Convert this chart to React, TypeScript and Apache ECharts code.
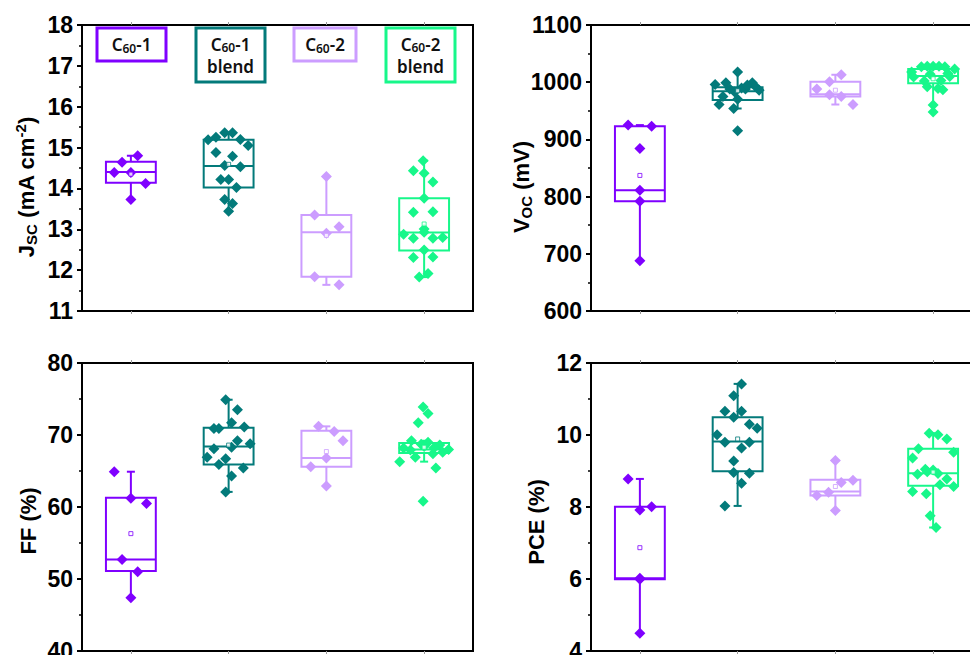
import React, { useEffect, useRef } from 'react';
import * as echarts from 'echarts';

// Sample groups, in plotting order
const categories = ['C60-1', 'C60-1 blend', 'C60-2', 'C60-2 blend'];

// ---- J_SC (mA cm^-2) ----
const jscPoints: number[][] = [
  [14.64, 14.8, 14.39, 14.39, 14.12, 13.73],
  [15.19, 15.25, 15.36, 15.36, 15.2, 15.05, 14.88, 14.79, 14.56, 14.53, 14.22, 14.22, 14.02, 13.73, 13.63, 13.44],
  [14.29, 13.35, 13.06, 12.9, 11.84, 11.64],
  [14.68, 14.43, 14.37, 14.16, 13.76, 13.42, 13.43, 13.01, 12.88, 12.78, 12.93, 12.78, 12.8, 12.49, 12.31, 12.32, 11.83, 11.92],
];
const jscJitter: number[][] = [
  [-0.09, 0.07, -0.17, 0, 0.15, 0],
  [-0.21, -0.13, -0.04, 0.04, 0.12, 0.2, -0.13, 0.04, -0.04, 0.12, -0.08, 0, 0.08, -0.04, 0.04, 0],
  [0, -0.12, 0.13, 0, -0.12, 0.13],
  [-0.01, -0.11, 0, 0.09, 0, -0.11, 0.09, 0, -0.21, -0.11, 0, 0.09, 0.19, 0, -0.11, 0.09, -0.05, 0.04],
];
// [lower whisker, Q1, median, Q3, upper whisker]
const jscBoxes: number[][] = [
  [13.73, 14.14, 14.4, 14.65, 14.8],
  [13.44, 14.02, 14.55, 15.19, 15.36],
  [11.64, 11.84, 12.93, 13.35, 14.29],
  [11.83, 12.48, 12.92, 13.76, 14.68],
];
const jscMeans = [14.35, 14.59, 12.85, 13.13];
const jscAxis = [11, 18, 1]; // min, max, step

// ---- V_OC (mV) ----
const vocPoints: number[][] = [
  [925, 923, 884, 811, 792, 688],
  [1018, 996, 999, 999, 986, 988, 988, 993, 975, 970, 961, 954, 915, 990, 995, 983],
  [988, 1001, 1013, 978, 975, 961],
  [1027, 1028, 1028, 1028, 1027, 1023, 1018, 1015, 1009, 1010, 1002, 1003, 992, 989, 987, 960, 948, 1014],
];
const vocJitter: number[][] = [
  [-0.12, 0.12, 0, 0, 0, 0],
  [0, -0.23, -0.12, 0.15, 0.22, -0.08, 0.08, 0.18, -0.15, 0, -0.19, -0.04, 0, 0.04, 0.1, -0.03],
  [-0.19, -0.06, 0.06, -0.06, 0.06, 0.18],
  [-0.12, -0.06, 0, 0.06, 0.12, 0.22, -0.22, 0.15, -0.2, 0.17, -0.09, 0.08, -0.06, 0.05, 0.1, 0, 0, -0.03],
];
const vocBoxes: number[][] = [
  [688, 792, 811, 923, 925],
  [954, 969, 984, 991, 1018],
  [961, 975, 979, 1001, 1013],
  [948, 998, 1011, 1023, 1028],
];
const vocMeans = [837, 985, 986, 1006];
const vocAxis = [600, 1100, 100];

// ---- FF (%) ----
const ffPoints: number[][] = [
  [64.9, 61.2, 60.5, 52.7, 51.0, 47.4],
  [74.9, 73.5, 71.7, 70.9, 70.9, 71.1, 69.2, 68.8, 68.1, 68.3, 66.9, 66.7, 65.9, 65.4, 64.3, 62.1],
  [71.2, 70.5, 69.2, 65.6, 66.8, 62.9],
  [73.9, 73.0, 71.7, 69.2, 68.7, 69.0, 68.6, 68.0, 68.2, 66.3, 66.9, 67.4, 67.6, 65.4, 60.8, 68.4, 68.2, 67.9],
];
const ffJitter: number[][] = [
  [-0.17, 0, 0.16, -0.09, 0.07, 0],
  [-0.03, 0.09, 0.03, -0.15, -0.1, 0.16, 0.09, 0.22, -0.15, 0.03, -0.22, -0.03, -0.1, 0.15, 0.03, -0.03],
  [-0.08, 0.08, 0.17, -0.16, 0, 0],
  [-0.01, 0.04, -0.06, -0.13, -0.03, 0.04, 0.16, 0.25, -0.21, -0.25, -0.09, 0.09, 0.19, 0.12, -0.01, 0, 0.1, -0.14],
];
const ffBoxes: number[][] = [
  [47.4, 51.1, 52.7, 61.3, 64.9],
  [62.1, 65.9, 68.4, 71.0, 74.9],
  [62.9, 65.6, 66.8, 70.6, 71.2],
  [66.3, 67.5, 68.0, 68.9, 69.2],
];
const ffMeans = [56.3, 68.6, 67.7, 68.3];
const ffAxis = [40, 80, 10];

// ---- PCE (%) ----
const pcePoints: number[][] = [
  [8.78, 7.92, 8.01, 5.99, 6.02, 4.49],
  [11.42, 11.09, 10.66, 10.66, 10.49, 10.3, 10.19, 10.01, 9.8, 9.8, 9.64, 9.28, 8.96, 8.94, 8.66, 8.03],
  [9.29, 8.74, 8.68, 8.32, 8.41, 7.9],
  [10.05, 10.01, 9.89, 9.62, 9.52, 9.36, 8.91, 9.05, 9.03, 8.78, 8.62, 8.57, 8.43, 8.37, 7.76, 7.43, 8.98, 8.93],
];
const pceJitter: number[][] = [
  [-0.12, 0, 0.12, 0, 0, 0],
  [0.04, -0.04, -0.13, 0.04, -0.04, 0.12, 0.2, -0.21, -0.13, 0.12, 0.04, -0.04, -0.04, 0.12, 0.04, -0.13],
  [0, 0.18, 0.06, -0.19, -0.07, 0],
  [-0.04, 0.05, 0.14, -0.15, 0.21, -0.21, -0.16, -0.08, 0, 0.14, 0.07, 0.21, -0.21, -0.07, -0.03, 0.03, -0.06, 0.05],
];
const pceBoxes: number[][] = [
  [4.49, 5.99, 6.02, 8.01, 8.78],
  [8.03, 8.99, 9.82, 10.49, 11.42],
  [7.9, 8.32, 8.43, 8.76, 9.29],
  [7.43, 8.59, 8.94, 9.62, 10.05],
];
const pceMeans = [6.87, 9.89, 8.57, 8.97];
const pceAxis = [4, 12, 2];

// ---- styling ----
const groupColors = ['#7f00ff', '#037a7a', '#cc9dff', '#17f78a'];
const AXIS_FONT = '"Liberation Sans", Arial, sans-serif';
const LEGEND_FONT = '"Noto Sans", "Open Sans", sans-serif';

type Panel = {
  points: number[][];
  jitter: number[][];
  boxes: number[][];
  means: number[];
  axis: number[];
  rect: { left: number; top: number; width: number; height: number };
  name: { text: string; x: number; y: number };
};

const panels: Panel[] = [
  {
    points: jscPoints, jitter: jscJitter, boxes: jscBoxes, means: jscMeans, axis: jscAxis,
    rect: { left: 82, top: 25, width: 391, height: 286 },
    name: { text: '{m|J}{sub|SC}{m| (mA cm}{sup|-2}{m|)}', x: 26, y: 187 },
  },
  {
    points: vocPoints, jitter: vocJitter, boxes: vocBoxes, means: vocMeans, axis: vocAxis,
    rect: { left: 591, top: 25, width: 391, height: 286 },
    name: { text: '{m|V}{sub|OC}{m| (mV)}', x: 521, y: 187 },
  },
  {
    points: ffPoints, jitter: ffJitter, boxes: ffBoxes, means: ffMeans, axis: ffAxis,
    rect: { left: 82, top: 363, width: 391, height: 288 },
    name: { text: '{m|FF (%)}', x: 28, y: 521 },
  },
  {
    points: pcePoints, jitter: pceJitter, boxes: pceBoxes, means: pceMeans, axis: pceAxis,
    rect: { left: 591, top: 363, width: 391, height: 288 },
    name: { text: '{m|PCE (%)}', x: 536, y: 522 },
  },
];

// Legend tags drawn inside the J_SC panel: first line (with subscript), optional second line
const legendFirstLines = [
  '{m|C}{s|60}{m|-1}',
  '{m|C}{s|60}{m|-1}',
  '{m|C}{s|60}{m|-2}',
  '{m|C}{s|60}{m|-2}',
];
const legendSecondLines = ['', 'blend', '', 'blend'];
const legendBoxes = [
  { x: 97, y: 28, w: 69, h: 33 },
  { x: 196, y: 28, w: 69, h: 54 },
  { x: 294, y: 28, w: 62, h: 33 },
  { x: 386, y: 28, w: 69, h: 54 },
];

function buildOption() {
  const grid: any[] = [];
  const xAxis: any[] = [];
  const yAxis: any[] = [];
  const series: any[] = [];
  const graphic: any[] = [];

  panels.forEach((p, gi) => {
    grid.push({
      ...p.rect,
      show: true,
      borderColor: '#000',
      borderWidth: 2,
      backgroundColor: 'transparent',
      containLabel: false,
      outerBoundsMode: 'none',
    });
    const catTick = { show: true, alignWithLabel: true, length: 3, lineStyle: { color: '#9a9a9a', width: 1 } };
    // bottom category axis (ticks only)
    xAxis.push({
      type: 'category', gridIndex: gi, data: categories, position: 'bottom',
      axisLine: { show: true, onZero: false, lineStyle: { color: '#000', width: 2 } },
      axisTick: catTick, axisLabel: { show: false }, splitLine: { show: false },
    });
    // top category axis (ticks only)
    xAxis.push({
      type: 'category', gridIndex: gi, data: categories, position: 'top',
      axisLine: { show: true, onZero: false, lineStyle: { color: '#000', width: 2 } },
      axisTick: catTick, axisLabel: { show: false }, splitLine: { show: false },
    });
    // hidden numeric axis carrying the jittered points and boxes
    xAxis.push({
      type: 'value', gridIndex: gi, min: -0.5, max: 3.5, show: false, splitLine: { show: false },
    });
    const [mn, mx, step] = p.axis;
    yAxis.push({
      type: 'value', gridIndex: gi, min: mn, max: mx, interval: step, position: 'left',
      axisLine: { show: true, onZero: false, lineStyle: { color: '#000', width: 2 } },
      axisTick: { show: true, length: 5, lineStyle: { color: '#000', width: 2 } },
      minorTick: { show: true, splitNumber: 2, length: 3, lineStyle: { color: '#000', width: 1.5 } },
      splitLine: { show: false },
      axisLabel: {
        color: '#000', fontFamily: AXIS_FONT, fontWeight: 'bold', fontSize: 23, margin: 9,
        formatter: (v: number) => String(v),
      },
    });

    const xi = gi * 3 + 2;

    // boxes with whiskers
    series.push({
      type: 'custom',
      xAxisIndex: xi,
      yAxisIndex: gi,
      z: 2,
      silent: true,
      data: p.boxes.map((b, i) => [i, ...b]),
      encode: { x: 0, y: [1, 2, 3, 4, 5] },
      renderItem: (_params: any, api: any) => {
        const g = api.value(0) as number;
        const c = groupColors[g];
        const lo = api.coord([g, api.value(1)]);
        const q1 = api.coord([g, api.value(2)])[1];
        const med = api.coord([g, api.value(3)])[1];
        const q3 = api.coord([g, api.value(4)])[1];
        const hi = api.coord([g, api.value(5)])[1];
        const xc = lo[0];
        const half = api.size([0.51, 0])[0] / 2;
        const cap = 4;
        const st = { stroke: c, lineWidth: 2, fill: null };
        return {
          type: 'group',
          children: [
            { type: 'line', shape: { x1: xc, y1: q3, x2: xc, y2: hi }, style: st },
            { type: 'line', shape: { x1: xc, y1: q1, x2: xc, y2: lo[1] }, style: st },
            { type: 'line', shape: { x1: xc - cap, y1: hi, x2: xc + cap, y2: hi }, style: st },
            { type: 'line', shape: { x1: xc - cap, y1: lo[1], x2: xc + cap, y2: lo[1] }, style: st },
            { type: 'rect', shape: { x: xc - half, y: q3, width: half * 2, height: q1 - q3 }, style: st },
            { type: 'line', shape: { x1: xc - half, y1: med, x2: xc + half, y2: med }, style: st },
          ],
        };
      },
    });

    // individual devices
    p.points.forEach((vals, g) => {
      series.push({
        type: 'scatter',
        xAxisIndex: xi,
        yAxisIndex: gi,
        z: 3,
        silent: true,
        symbol: 'diamond',
        symbolSize: 11,
        itemStyle: { color: groupColors[g], opacity: 1 },
        data: vals.map((v, i) => [g + p.jitter[g][i], v]),
      });
    });

    // mean markers
    series.push({
      type: 'scatter',
      xAxisIndex: xi,
      yAxisIndex: gi,
      z: 4,
      silent: true,
      symbol: 'rect',
      symbolSize: 4,
      data: p.means.map((m, g) => ({
        value: [g, m],
        itemStyle: { color: '#fff', borderColor: groupColors[g], borderWidth: 1 },
      })),
    });

    // rotated axis title
    graphic.push({
      type: 'text',
      x: p.name.x,
      y: p.name.y,
      rotation: Math.PI / 2,
      silent: true,
      style: {
        text: p.name.text,
        align: 'center',
        verticalAlign: 'middle',
        fill: '#000',
        rich: {
          m: { fontFamily: AXIS_FONT, fontWeight: 'bold', fontSize: 22, lineHeight: 26, fill: '#000' },
          sub: { fontFamily: AXIS_FONT, fontWeight: 'bold', fontSize: 15, lineHeight: 11, verticalAlign: 'bottom', fill: '#000' },
          sup: { fontFamily: AXIS_FONT, fontWeight: 'bold', fontSize: 15, lineHeight: 11, verticalAlign: 'top', fill: '#000' },
        },
      },
    });
  });

  const legendRich = {
    m: { fontFamily: LEGEND_FONT, fontWeight: 600, fontSize: 17, lineHeight: 19, fill: '#111' },
    s: { fontFamily: LEGEND_FONT, fontWeight: 600, fontSize: 12, lineHeight: 8, verticalAlign: 'bottom', fill: '#111' },
  };

  legendBoxes.forEach((b, i) => {
    graphic.push({
      type: 'rect',
      silent: true,
      shape: { x: b.x, y: b.y, width: b.w, height: b.h },
      style: { fill: '#fff', stroke: groupColors[i], lineWidth: 3 },
      z: 10,
    });
    const twoLines = legendSecondLines[i] !== '';
    const cx = b.x + b.w / 2;
    const y1 = twoLines ? b.y + b.h / 2 - 11 : b.y + b.h / 2;
    graphic.push({
      type: 'text',
      silent: true,
      x: cx,
      y: y1,
      z: 11,
      style: { text: legendFirstLines[i], align: 'center', verticalAlign: 'middle', fill: '#111', rich: legendRich },
    });
    if (twoLines) {
      graphic.push({
        type: 'text',
        silent: true,
        x: cx,
        y: y1 + 22,
        z: 11,
        style: {
          text: legendSecondLines[i], align: 'center', verticalAlign: 'middle', fill: '#111',
          fontFamily: LEGEND_FONT, fontWeight: 600, fontSize: 17,
        },
      });
    }
  });

  return {
    animation: false,
    backgroundColor: '#fff',
    grid,
    xAxis,
    yAxis,
    series,
    graphic,
  };
}

export default function App() {
  const ref = useRef<HTMLDivElement>(null);
  useEffect(() => {
    if (!ref.current) return;
    const chart = echarts.init(ref.current, undefined, { renderer: 'svg' });
    chart.setOption(buildOption() as any);
    return () => chart.dispose();
  }, []);
  return (
    <div
      ref={ref}
      style={{ position: 'fixed', left: 0, top: 0, width: 970, height: 655, background: '#fff' }}
    />
  );
}
